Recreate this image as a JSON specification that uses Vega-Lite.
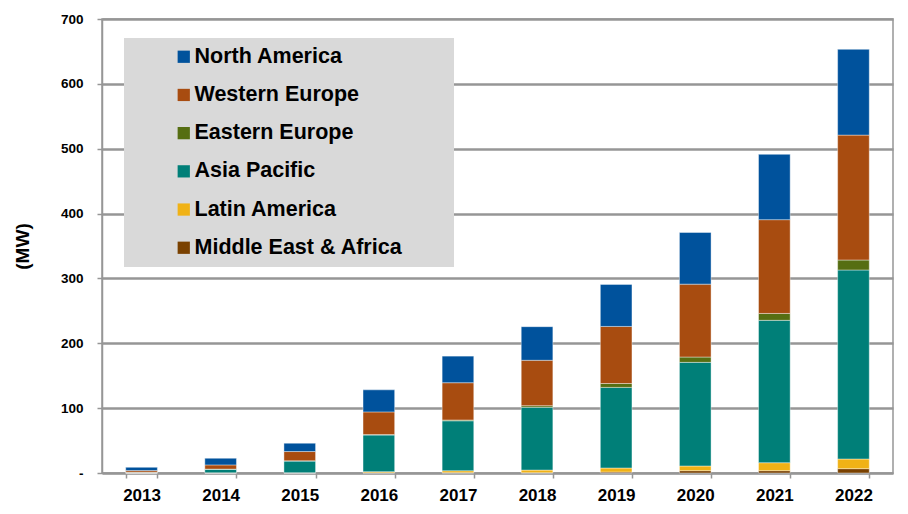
{
  "$schema": "https://vega.github.io/schema/vega-lite/v6.json",
  "width": 791,
  "height": 454,
  "autosize": {"type": "none"},
  "padding": {"left": 102, "top": 19, "right": 15, "bottom": 41},
  "background": "#ffffff",
  "config": {
    "font": "Liberation Sans",
    "view": {"stroke": "#969696", "strokeWidth": 1.5}
  },
  "data": {
    "values": [
      {"year": "2013", "region": "Middle East & Africa", "ord": 1, "mw": 0},
      {"year": "2013", "region": "Latin America", "ord": 2, "mw": 0.2},
      {"year": "2013", "region": "Asia Pacific", "ord": 3, "mw": 1},
      {"year": "2013", "region": "Eastern Europe", "ord": 4, "mw": 0},
      {"year": "2013", "region": "Western Europe", "ord": 5, "mw": 2.5},
      {"year": "2013", "region": "North America", "ord": 6, "mw": 5},
      {"year": "2014", "region": "Middle East & Africa", "ord": 1, "mw": 0},
      {"year": "2014", "region": "Latin America", "ord": 2, "mw": 0.3},
      {"year": "2014", "region": "Asia Pacific", "ord": 3, "mw": 5.5},
      {"year": "2014", "region": "Eastern Europe", "ord": 4, "mw": 0.2},
      {"year": "2014", "region": "Western Europe", "ord": 5, "mw": 6.5},
      {"year": "2014", "region": "North America", "ord": 6, "mw": 10.2},
      {"year": "2015", "region": "Middle East & Africa", "ord": 1, "mw": 0},
      {"year": "2015", "region": "Latin America", "ord": 2, "mw": 0.5},
      {"year": "2015", "region": "Asia Pacific", "ord": 3, "mw": 18},
      {"year": "2015", "region": "Eastern Europe", "ord": 4, "mw": 0.3},
      {"year": "2015", "region": "Western Europe", "ord": 5, "mw": 14.3},
      {"year": "2015", "region": "North America", "ord": 6, "mw": 12.8},
      {"year": "2016", "region": "Middle East & Africa", "ord": 1, "mw": 0.3},
      {"year": "2016", "region": "Latin America", "ord": 2, "mw": 1.8},
      {"year": "2016", "region": "Asia Pacific", "ord": 3, "mw": 56.5},
      {"year": "2016", "region": "Eastern Europe", "ord": 4, "mw": 0.6},
      {"year": "2016", "region": "Western Europe", "ord": 5, "mw": 35},
      {"year": "2016", "region": "North America", "ord": 6, "mw": 34},
      {"year": "2017", "region": "Middle East & Africa", "ord": 1, "mw": 0.5},
      {"year": "2017", "region": "Latin America", "ord": 2, "mw": 3},
      {"year": "2017", "region": "Asia Pacific", "ord": 3, "mw": 77},
      {"year": "2017", "region": "Eastern Europe", "ord": 4, "mw": 1.2},
      {"year": "2017", "region": "Western Europe", "ord": 5, "mw": 57.5},
      {"year": "2017", "region": "North America", "ord": 6, "mw": 41},
      {"year": "2018", "region": "Middle East & Africa", "ord": 1, "mw": 0.5},
      {"year": "2018", "region": "Latin America", "ord": 2, "mw": 4},
      {"year": "2018", "region": "Asia Pacific", "ord": 3, "mw": 96.8},
      {"year": "2018", "region": "Eastern Europe", "ord": 4, "mw": 2.5},
      {"year": "2018", "region": "Western Europe", "ord": 5, "mw": 70},
      {"year": "2018", "region": "North America", "ord": 6, "mw": 51.8},
      {"year": "2019", "region": "Middle East & Africa", "ord": 1, "mw": 1.5},
      {"year": "2019", "region": "Latin America", "ord": 2, "mw": 6.2},
      {"year": "2019", "region": "Asia Pacific", "ord": 3, "mw": 124.3},
      {"year": "2019", "region": "Eastern Europe", "ord": 4, "mw": 6},
      {"year": "2019", "region": "Western Europe", "ord": 5, "mw": 88},
      {"year": "2019", "region": "North America", "ord": 6, "mw": 64.8},
      {"year": "2020", "region": "Middle East & Africa", "ord": 1, "mw": 3.6},
      {"year": "2020", "region": "Latin America", "ord": 2, "mw": 7.2},
      {"year": "2020", "region": "Asia Pacific", "ord": 3, "mw": 159.8},
      {"year": "2020", "region": "Eastern Europe", "ord": 4, "mw": 8.2},
      {"year": "2020", "region": "Western Europe", "ord": 5, "mw": 112.4},
      {"year": "2020", "region": "North America", "ord": 6, "mw": 79.6},
      {"year": "2021", "region": "Middle East & Africa", "ord": 1, "mw": 3.6},
      {"year": "2021", "region": "Latin America", "ord": 2, "mw": 12.3},
      {"year": "2021", "region": "Asia Pacific", "ord": 3, "mw": 219.5},
      {"year": "2021", "region": "Eastern Europe", "ord": 4, "mw": 10.6},
      {"year": "2021", "region": "Western Europe", "ord": 5, "mw": 144.6},
      {"year": "2021", "region": "North America", "ord": 6, "mw": 100.7},
      {"year": "2022", "region": "Middle East & Africa", "ord": 1, "mw": 6.7},
      {"year": "2022", "region": "Latin America", "ord": 2, "mw": 14.9},
      {"year": "2022", "region": "Asia Pacific", "ord": 3, "mw": 291.4},
      {"year": "2022", "region": "Eastern Europe", "ord": 4, "mw": 15.4},
      {"year": "2022", "region": "Western Europe", "ord": 5, "mw": 192.6},
      {"year": "2022", "region": "North America", "ord": 6, "mw": 132.2}
    ]
  },
  "mark": {"type": "bar", "stroke": "#ffffff", "strokeOpacity": 0.5, "strokeWidth": 0.8},
  "encoding": {
    "x": {
      "field": "year",
      "type": "ordinal",
      "scale": {"paddingInner": 0.6, "paddingOuter": 0.3},
      "axis": {
        "title": null,
        "labelAngle": 0,
        "labelFont": "Liberation Sans",
        "labelFontWeight": "bold",
        "labelFontSize": 17,
        "labelColor": "#000000",
        "labelPadding": 9,
        "tickBand": "extent",
        "tickSize": 5,
        "tickColor": "#969696",
        "tickWidth": 1.5,
        "domainColor": "#969696",
        "domainWidth": 1.5
      }
    },
    "y": {
      "field": "mw",
      "type": "quantitative",
      "stack": "zero",
      "scale": {"domain": [0, 700], "nice": false},
      "axis": {
        "title": "(MW)",
        "titleFont": "Liberation Sans",
        "titleFontWeight": "bold",
        "titleFontSize": 19,
        "titleColor": "#000000",
        "titlePadding": 28,
        "values": [0, 100, 200, 300, 400, 500, 600, 700],
        "labelExpr": "datum.value == 0 ? '-' : datum.label",
        "labelFont": "Liberation Sans",
        "labelFontWeight": "bold",
        "labelFontSize": 13.5,
        "labelColor": "#000000",
        "labelPadding": 14,
        "tickSize": 5,
        "tickColor": "#969696",
        "tickWidth": 1.5,
        "domainColor": "#969696",
        "domainWidth": 1.5,
        "grid": true,
        "gridColor": "#969696",
        "gridWidth": 2.5
      }
    },
    "color": {
      "field": "region",
      "type": "nominal",
      "scale": {
        "domain": ["North America", "Western Europe", "Eastern Europe", "Asia Pacific", "Latin America", "Middle East & Africa"],
        "range": ["#00529C", "#A84C10", "#566E12", "#007F78", "#F0B216", "#7A4100"]
      },
      "legend": {
        "title": "\u00a0",
        "titleOrient": "right",
        "titlePadding": 44,
        "titleFontSize": 4,
        "orient": "none",
        "legendX": 22,
        "legendY": 19,
        "fillColor": "#d9d9d9",
        "padding": 8,
        "symbolType": "square",
        "symbolSize": 150,
        "symbolStrokeWidth": 0,
        "symbolOpacity": 1,
        "symbolOffset": 41,
        "labelOffset": 0,
        "labelFont": "Liberation Sans",
        "labelFontWeight": "bold",
        "labelFontSize": 21.5,
        "labelColor": "#000000",
        "labelLimit": 400,
        "rowPadding": 15.2
      }
    },
    "order": {"field": "ord", "type": "quantitative"}
  }
}
